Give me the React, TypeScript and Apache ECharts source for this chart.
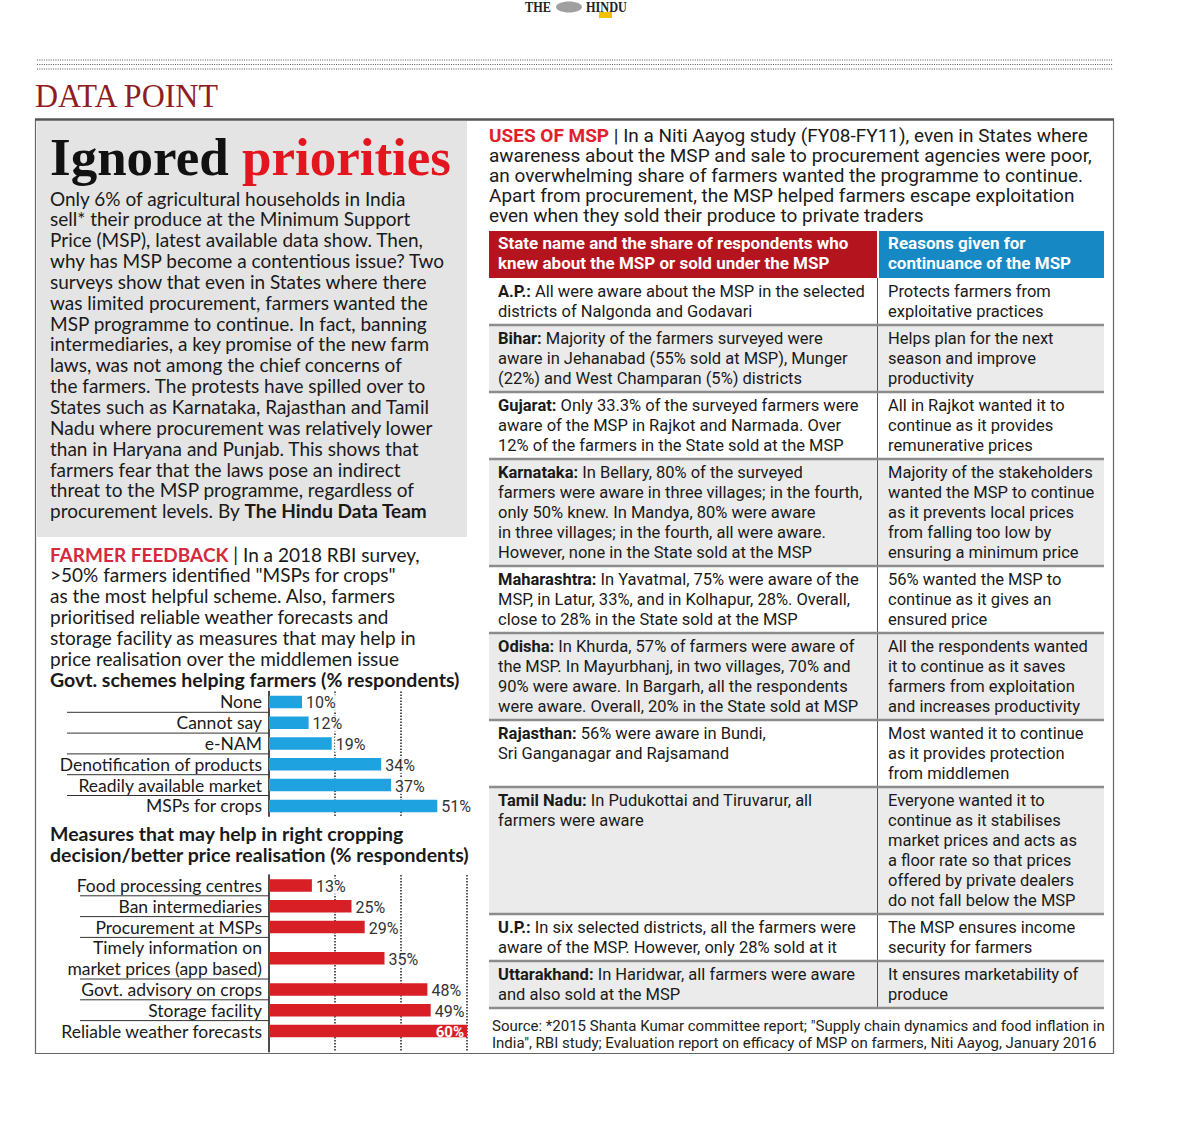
import { useEffect, useRef } from "react";
import * as echarts from "echarts";

// ---------- DATA ----------
const schemeLabels = ["None", "Cannot say", "e-NAM", "Denotification of products", "Readily available market", "MSPs for crops"];
const schemeValues = [10, 12, 19, 34, 37, 51];

const measureLabels = [
  "Food processing centres",
  "Ban intermediaries",
  "Procurement at MSPs",
  "Timely information on\nmarket prices (app based)",
  "Govt. advisory on crops",
  "Storage facility",
  "Reliable weather forecasts",
];
const measureValues = [13, 25, 29, 35, 48, 49, 60];

const axisMin = 0;
const axisMax = 60;
const axisStep = 20;

const introLines = [
  "Only 6% of agricultural households in India",
  "sell* their produce at the Minimum Support",
  "Price (MSP), latest available data show. Then,",
  "why has MSP become a contentious issue? Two",
  "surveys show that even in States where there",
  "was limited procurement, farmers wanted the",
  "MSP programme to continue. In fact, banning",
  "intermediaries, a key promise of the new farm",
  "laws, was not among the chief concerns of",
  "the farmers. The protests have spilled over to",
  "States such as Karnataka, Rajasthan and Tamil",
  "Nadu where procurement was relatively lower",
  "than in Haryana and Punjab. This shows that",
  "farmers fear that the laws pose an indirect",
  "threat to the MSP programme, regardless of",
  "procurement levels. By {b|The Hindu Data Team}",
];

const feedbackLines = [
  "{r|FARMER FEEDBACK} | In a 2018 RBI survey,",
  ">50% farmers identified \"MSPs for crops\"",
  "as the most helpful scheme. Also, farmers",
  "prioritised reliable weather forecasts and",
  "storage facility as measures that may help in",
  "price realisation over the middlemen issue",
];

const usesLines = [
  "{r|USES OF MSP} | In a Niti Aayog study (FY08-FY11), even in States where",
  "awareness about the MSP and sale to procurement agencies were poor,",
  "an overwhelming share of farmers wanted the programme to continue.",
  "Apart from procurement, the MSP helped farmers escape exploitation",
  "even when they sold their produce to private traders",
];

const chart1Title = "Govt. schemes helping farmers (% respondents)";
const chart2Title = "Measures that may help in right cropping\ndecision/better price realisation (% respondents)";

const headerLeft = "State name and the share of respondents who\nknew about the MSP or sold under the MSP";
const headerRight = "Reasons given for\ncontinuance of the MSP";

const tableStates = ["A.P.:", "Bihar:", "Gujarat:", "Karnataka:", "Maharashtra:", "Odisha:", "Rajasthan:", "Tamil Nadu:", "U.P.:", "Uttarakhand:"];
const tableAwareness = [
  " All were aware about the MSP in the selected\ndistricts of Nalgonda and Godavari",
  " Majority of the farmers surveyed were\naware in Jehanabad (55% sold at MSP), Munger\n(22%) and West Champaran (5%) districts",
  " Only 33.3% of the surveyed farmers were\naware of the MSP in Rajkot and Narmada. Over\n12% of the farmers in the State sold at the MSP",
  " In Bellary, 80% of the surveyed\nfarmers were aware in three villages; in the fourth,\nonly 50% knew. In Mandya, 80% were aware\nin three villages; in the fourth, all were aware.\nHowever, none in the State sold at the MSP",
  " In Yavatmal, 75% were aware of the\nMSP, in Latur, 33%, and in Kolhapur, 28%. Overall,\nclose to 28% in the State sold at the MSP",
  " In Khurda, 57% of farmers were aware of\nthe MSP. In Mayurbhanj, in two villages, 70% and\n90% were aware. In Bargarh, all the respondents\nwere aware. Overall, 20% in the State sold at MSP",
  " 56% were aware in Bundi,\nSri Ganganagar and Rajsamand",
  " In Pudukottai and Tiruvarur, all\nfarmers were aware",
  " In six selected districts, all the farmers were\naware of the MSP. However, only 28% sold at it",
  " In Haridwar, all farmers were aware\nand also sold at the MSP",
];
const tableReasons = [
  "Protects farmers from\nexploitative practices",
  "Helps plan for the next\nseason and improve\nproductivity",
  "All in Rajkot wanted it to\ncontinue as it provides\nremunerative prices",
  "Majority of the stakeholders\nwanted the MSP to continue\nas it prevents local prices\nfrom falling too low by\nensuring a minimum price",
  "56% wanted the MSP to\ncontinue as it gives an\nensured price",
  "All the respondents wanted\nit to continue as it saves\nfarmers from exploitation\nand increases productivity",
  "Most wanted it to continue\nas it provides protection\nfrom middlemen",
  "Everyone wanted it to\ncontinue as it stabilises\nmarket prices and acts as\na floor rate so that prices\noffered by private dealers\ndo not fall below the MSP",
  "The MSP ensures income\nsecurity for farmers",
  "It ensures marketability of\nproduce",
];

const sourceLines = [
  "Source: *2015 Shanta Kumar committee report; \"Supply chain dynamics and food inflation in",
  "India\", RBI study; Evaluation report on efficacy of MSP on farmers, Niti Aayog, January 2016",
];

// ---------- STYLE ----------
const LEFT = "Lato, 'Open Sans', sans-serif";
const COND = "Roboto, 'Noto Sans', sans-serif";
const SERIF = "'Liberation Serif', 'DejaVu Serif', serif";
const INK = "#1a1a1a";
const BLUE = "#1ea2e0";
const RED = "#d81f26";
const BODY = 19;

function slotsOf(labels: string[]) {
  let acc = 0;
  return labels.map((l) => {
    const n = l.split("\n").length;
    const pos = acc + (n - 1) / 2;
    acc += n;
    return { pos, n };
  });
}

function para(x: number, firstCenter: number, lh: number, text: string, size: number, family: string, opts: any = {}) {
  return {
    type: "text",
    x,
    y: firstCenter - lh / 2,
    scaleX: opts.sx || 1,
    silent: true,
    z: 20,
    style: {
      text,
      fontSize: size,
      fontFamily: family,
      fontWeight: opts.weight || "normal",
      fill: opts.fill || INK,
      lineHeight: lh,
      align: "left",
      verticalAlign: "top",
      rich: opts.rich,
    },
  };
}

function makeRender(labels: string[], slots: { pos: number; n: number }[], color: string, sepLen: number) {
  return (params: any, api: any) => {
    const i = params.dataIndex;
    const v = api.value(0) as number;
    const p = api.value(1) as number;
    const base = api.coord([0, p]);
    const end = api.coord([v, p]);
    const band = Math.abs(api.size([0, 1])[1]);
    const barH = band * 0.6;
    const maxX = api.coord([axisMax, p])[0];
    const inside = end[0] + 30 > maxX + 1;
    const children: any[] = [
      {
        type: "rect",
        shape: { x: base[0], y: base[1] - barH / 2, width: end[0] - base[0], height: barH },
        style: { fill: color },
      },
      {
        type: "text",
        x: base[0] - 7,
        y: base[1],
        style: {
          text: labels[i],
          align: "right",
          verticalAlign: "middle",
          fontFamily: LEFT,
          fontSize: 17.5,
          lineHeight: band,
          fill: INK,
        },
      },
      inside
        ? {
            type: "text",
            x: end[0] - 3,
            y: base[1] + 1,
            style: { text: v + "%", align: "right", verticalAlign: "middle", fontFamily: COND, fontWeight: "bold", fontSize: 15, fill: "#fff" },
          }
        : {
            type: "text",
            x: end[0] + 3,
            y: base[1] + 1,
            style: {
              text: v + "%",
              align: "left",
              verticalAlign: "middle",
              fontFamily: COND,
              fontSize: 16,
              fill: "#333",
              backgroundColor: "rgba(255,255,255,0.85)",
              padding: [0, 1],
            },
          },
    ];
    if (i < labels.length - 1) {
      const yy = base[1] + (slots[i].n * band) / 2;
      children.push({
        type: "line",
        shape: { x1: base[0] - sepLen, y1: yy, x2: base[0], y2: yy },
        style: { stroke: "#333", lineWidth: 1 },
      });
    }
    return { type: "group", children };
  };
}

function buildOption() {
  const slots1 = slotsOf(schemeLabels);
  const slots2 = slotsOf(measureLabels);
  const total1 = slots1.reduce((s, x) => s + x.n, 0);
  const total2 = slots2.reduce((s, x) => s + x.n, 0);

  const els: any[] = [];

  // masthead
  els.push({ type: "text", x: 525, y: 7, scaleX: 0.82, silent: true, style: { text: "THE", fontFamily: SERIF, fontWeight: "bold", fontSize: 15, fill: "#222", verticalAlign: "middle" } });
  els.push({ type: "ellipse", silent: true, shape: { cx: 569, cy: 7, rx: 13, ry: 5.5 }, style: { fill: "#a0a0a0" } });
  els.push({ type: "text", x: 586, y: 7, scaleX: 0.82, silent: true, style: { text: "HINDU", fontFamily: SERIF, fontWeight: "bold", fontSize: 15, fill: "#222", verticalAlign: "middle" } });
  els.push({ type: "rect", silent: true, shape: { x: 599, y: 12, width: 13, height: 6 }, style: { fill: "#f2c200" } });

  // dotted band
  [60, 64.5, 69].forEach((y) => {
    els.push({ type: "line", silent: true, shape: { x1: 37, y1: y, x2: 1113, y2: y }, style: { stroke: "#555", lineWidth: 1.2, lineDash: [1, 1.3] } });
  });

  // DATA POINT
  els.push({ type: "text", x: 35, y: 96, scaleX: 0.94, silent: true, style: { text: "DATA POINT", fontFamily: SERIF, fontSize: 34, fill: "#8f1d22", verticalAlign: "middle" } });

  // frame
  els.push({ type: "rect", silent: true, z: 1, shape: { x: 35.5, y: 119.5, width: 1078, height: 934 }, style: { fill: "none", stroke: "#666", lineWidth: 1.2 } });
  els.push({ type: "line", silent: true, z: 2, shape: { x1: 35, y1: 119.5, x2: 1114, y2: 119.5 }, style: { stroke: "#555", lineWidth: 2.5 } });
  els.push({ type: "rect", silent: true, z: 1, shape: { x: 37, y: 121, width: 430, height: 416 }, style: { fill: "#e4e4e4" } });

  // title
  els.push({
    type: "text", x: 50, y: 157, silent: true, z: 20,
    style: {
      text: "{a|Ignored} {b|priorities}",
      verticalAlign: "middle",
      fontFamily: SERIF, fontSize: 53, fontWeight: "bold", fill: "#111",
      rich: {
        a: { fontFamily: SERIF, fontSize: 53, fontWeight: "bold", fill: "#111" },
        b: { fontFamily: SERIF, fontSize: 53, fontWeight: "bold", fill: "#e3151e" },
      },
    },
  });

  // left paragraphs
  els.push(para(50, 198, 20.85, introLines.join("\n"), BODY, LEFT, {
    rich: { b: { fontFamily: LEFT, fontSize: BODY, fontWeight: "bold", fill: INK, lineHeight: 20.85 } },
  }));
  els.push(para(50, 554, 20.85, feedbackLines.join("\n"), BODY, LEFT, {
    rich: { r: { fontFamily: LEFT, fontSize: BODY, fontWeight: "bold", fill: "#d42a3c", lineHeight: 20.85 } },
  }));
  els.push(para(50, 679, 21, chart1Title, 19.5, LEFT, { weight: "bold" }));
  els.push(para(50, 833, 21, chart2Title, 19.5, LEFT, { weight: "bold" }));

  // right intro
  els.push(para(489, 136, 20, usesLines.join("\n"), 18, COND, {
    sx: 1.055,
    rich: { r: { fontFamily: COND, fontSize: 18, fontWeight: "bold", fill: "#e0202a", lineHeight: 20 } },
  }));

  // table header
  els.push({ type: "rect", silent: true, shape: { x: 489, y: 231, width: 388, height: 47 }, style: { fill: "#b3141e" } });
  els.push({ type: "rect", silent: true, shape: { x: 879, y: 231, width: 225, height: 47 }, style: { fill: "#1689c5" } });
  els.push(para(498, 243, 20, headerLeft, 17, COND, { weight: "bold", fill: "#fff" }));
  els.push(para(888, 243, 20, headerRight, 17, COND, { weight: "bold", fill: "#fff" }));

  // table rows
  let top = 278;
  tableStates.forEach((st, i) => {
    const aw = tableAwareness[i].split("\n");
    const rs = tableReasons[i].split("\n");
    const n = Math.max(aw.length, rs.length);
    const h = 27 + 20 * (n - 1);
    if (i % 2 === 1) {
      els.push({ type: "rect", silent: true, z: 1, shape: { x: 489, y: top, width: 615, height: h }, style: { fill: "#ebebeb" } });
    }
    els.push(para(498, top + 13, 20, "{b|" + st + "}" + tableAwareness[i], 16.5, COND, {
      rich: { b: { fontFamily: COND, fontSize: 16.5, fontWeight: "bold", fill: INK, lineHeight: 20 } },
    }));
    els.push(para(888, top + 13, 20, tableReasons[i], 16.5, COND));
    top += h;
    els.push({ type: "line", silent: true, z: 5, shape: { x1: 489, y1: top, x2: 1104, y2: top }, style: { stroke: "#8c8c8c", lineWidth: 2.5 } });
  });
  els.push({ type: "line", silent: true, z: 4, shape: { x1: 877.5, y1: 278, x2: 877.5, y2: top }, style: { stroke: "#555", lineWidth: 1 } });

  // source
  els.push(para(492, 1026, 17, sourceLines.join("\n"), 15, COND, { fill: "#222" }));

  const xAxisBase = (gi: number, showMax: boolean) => ({
    gridIndex: gi,
    type: "value",
    min: axisMin,
    max: axisMax,
    interval: axisStep,
    axisLine: { show: false },
    axisTick: { show: false },
    axisLabel: { show: false },
    splitLine: { show: true, showMinLine: false, showMaxLine: showMax, lineStyle: { type: "dotted", color: "#222", width: 1.5 } },
  });
  const yAxisBase = (gi: number, max: number) => ({
    gridIndex: gi,
    type: "value",
    inverse: true,
    min: -0.5,
    max,
    axisLine: { show: true, onZero: false, lineStyle: { color: "#111", width: 1.5 } },
    axisTick: { show: false },
    axisLabel: { show: false },
    splitLine: { show: false },
  });

  return {
    backgroundColor: "#ffffff",
    animation: false,
    grid: [
      { left: 269, top: 691.5, width: 198, height: 20.8 * total1 },
      { left: 269, top: 875, width: 198, height: 20.8 * (total2 + 0.5) },
    ],
    xAxis: [xAxisBase(0, false), xAxisBase(1, true)],
    yAxis: [yAxisBase(0, total1 - 0.5), yAxisBase(1, total2)],
    graphic: { elements: els },
    series: [
      {
        type: "custom",
        coordinateSystem: "cartesian2d",
        xAxisIndex: 0,
        yAxisIndex: 0,
        clip: false,
        encode: { x: 0, y: 1 },
        data: schemeValues.map((v, i) => [v, slots1[i].pos]),
        renderItem: makeRender(schemeLabels, slots1, BLUE, 202),
      },
      {
        type: "custom",
        coordinateSystem: "cartesian2d",
        xAxisIndex: 1,
        yAxisIndex: 1,
        clip: false,
        encode: { x: 0, y: 1 },
        data: measureValues.map((v, i) => [v, slots2[i].pos]),
        renderItem: makeRender(measureLabels, slots2, RED, 189),
      },
    ],
  };
}

export default function App() {
  const ref = useRef<HTMLDivElement>(null);
  useEffect(() => {
    if (!ref.current) return;
    const chart = echarts.init(ref.current, null, { renderer: "svg", width: 1200, height: 1134 });
    chart.setOption(buildOption() as any);
    return () => chart.dispose();
  }, []);
  return <div ref={ref} style={{ position: "absolute", left: 0, top: 0, width: 1200, height: 1134, background: "#fff" }} />;
}
